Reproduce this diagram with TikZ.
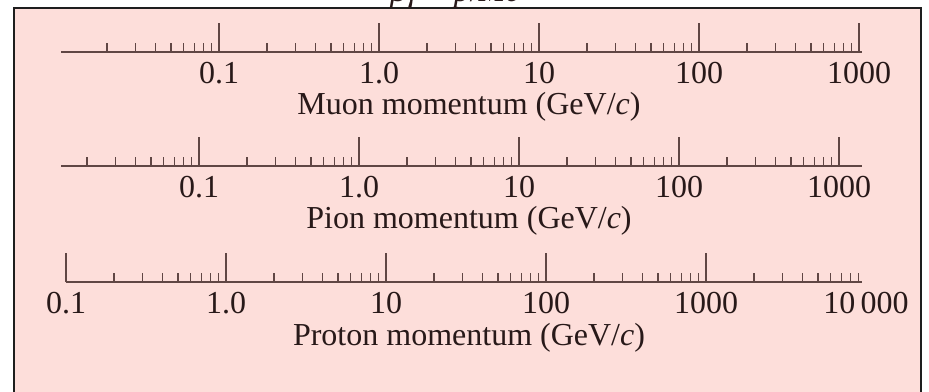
\documentclass[tikz,border=0pt]{standalone}
\usepackage{fontspec}
\setmainfont{Liberation Serif}
\definecolor{bgpink}{RGB}{253,222,218}
\definecolor{axiscol}{RGB}{96,70,68}
\definecolor{txtcol}{RGB}{40,25,25}
\definecolor{framecol}{RGB}{30,30,30}
\begin{document}
\begin{tikzpicture}[x=0.5pt,y=-0.5pt,
  axisline/.style={draw=axiscol,line width=1pt},
  majortick/.style={draw=axiscol,line width=0.7pt},
  minortick/.style={draw=axiscol,line width=0.7pt},
  ticklabel/.style={font=\fontsize{16}{19}\selectfont,text=txtcol,anchor=base,inner sep=0pt},
  axtitle/.style={font=\fontsize{16}{19}\selectfont,text=txtcol,anchor=base,inner sep=0pt}]
\useasboundingbox (0,0) rectangle (929,391);
\fill[bgpink] (14,8) rectangle (921,400);
\draw[line width=1.2pt,framecol] (14,400) -- (14,8) -- (921,8) -- (921,400);
\node[axtitle] (bgtitle) at (455,2) {\textit{βγ} = \textit{p}/\textit{Mc}};

% Muon row
\coordinate (mu0) at (61,52);
\coordinate (mu1) at (862,52);
\draw[axisline] (mu0) -- (mu1);
\foreach \d in {59,219,379,539,699}
  \foreach \k in {2,...,9}
    \draw[minortick] ({\d+160*log10(\k)},52) -- ++(0,-9);
\foreach \x/\t [count=\i] in {219/0.1,379/1.0,539/10,699/100,859/1000}{
  \draw[majortick] (\x,52) -- ++(0,-29);
  \node[ticklabel] (mulab\i) at (\x,83) {\t};
}
\node[axtitle] (mutitle) at (469,114) {Muon momentum (GeV/\textit{c})};

% Pion row
\coordinate (pi0) at (61,166);
\coordinate (pi1) at (862,166);
\draw[axisline] (pi0) -- (pi1);
\foreach \d in {39,199,359,519,679}
  \foreach \k in {2,...,9}
    \draw[minortick] ({\d+160*log10(\k)},166) -- ++(0,-9);
\foreach \x/\t [count=\i] in {199/0.1,359/1.0,519/10,679/100,839/1000}{
  \draw[majortick] (\x,166) -- ++(0,-29);
  \node[ticklabel] (pilab\i) at (\x,197) {\t};
}
\node[axtitle] (pititle) at (469,228) {Pion momentum (GeV/\textit{c})};

% Proton row
\coordinate (p0) at (66,282);
\coordinate (p1) at (862,282);
\draw[axisline] (p0) -- (p1);
\foreach \d in {66,226,386,546,706}
  \foreach \k in {2,...,9}
    \draw[minortick] ({\d+160*log10(\k)},282) -- ++(0,-9);
\foreach \x/\t [count=\i] in {66/0.1,226/1.0,386/10,546/100,706/1000}{
  \draw[majortick] (\x,282) -- ++(0,-29);
  \node[ticklabel] (prlab\i) at (\x,313) {\t};
}
\node[ticklabel] (prlab6) at (866,313) {10\,000};
\node[axtitle] (prtitle) at (469,345) {Proton momentum (GeV/\textit{c})};
\end{tikzpicture}
\end{document}
